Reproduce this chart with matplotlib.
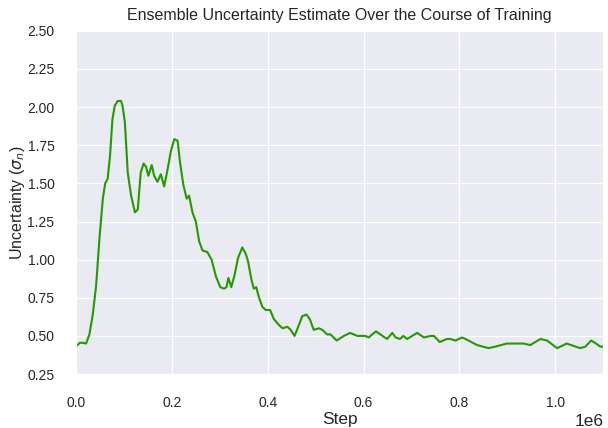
import numpy as np
import matplotlib
matplotlib.use("Agg")
import matplotlib.pyplot as plt
import seaborn as sns

sns.set_style("darkgrid")
plt.rcParams["font.family"] = ["Liberation Sans", "DejaVu Sans"]

# step (in millions) and uncertainty
step = [0.003, 0.008, 0.014, 0.021, 0.028, 0.035, 0.042, 0.049, 0.056, 0.061, 0.066,
        0.071, 0.076, 0.081, 0.087, 0.094, 0.097, 0.102, 0.108, 0.115, 0.123, 0.129,
        0.135, 0.141, 0.146, 0.151, 0.158, 0.163, 0.170, 0.177, 0.184, 0.191, 0.198,
        0.205, 0.212, 0.217, 0.224, 0.231, 0.236, 0.243, 0.250, 0.257, 0.264, 0.274,
        0.283, 0.292, 0.301, 0.309, 0.314, 0.318, 0.324, 0.331, 0.338, 0.347, 0.354,
        0.359, 0.366, 0.371, 0.376, 0.382, 0.389, 0.396, 0.405, 0.413, 0.424, 0.431,
        0.441, 0.448, 0.456, 0.465, 0.472, 0.481, 0.488, 0.496, 0.507, 0.514, 0.524,
        0.531, 0.544, 0.559, 0.572, 0.587, 0.604, 0.611, 0.618, 0.626, 0.635, 0.649,
        0.660, 0.667, 0.676, 0.683, 0.691, 0.712, 0.726, 0.740, 0.747, 0.759, 0.774,
        0.781, 0.792, 0.806, 0.819, 0.837, 0.861, 0.875, 0.899, 0.934, 0.948, 0.969,
        0.983, 1.004, 1.024, 1.052, 1.063, 1.075, 1.083, 1.094, 1.100]
sigma = [0.44, 0.455, 0.455, 0.45, 0.51, 0.64, 0.83, 1.14, 1.40, 1.50, 1.53,
         1.68, 1.92, 2.01, 2.04, 2.04, 2.01, 1.90, 1.57, 1.42, 1.31, 1.33,
         1.57, 1.63, 1.61, 1.55, 1.62, 1.55, 1.51, 1.56, 1.48, 1.59, 1.71,
         1.79, 1.78, 1.64, 1.49, 1.40, 1.42, 1.31, 1.25, 1.12, 1.06, 1.05,
         1.00, 0.89, 0.82, 0.81, 0.82, 0.88, 0.82, 0.90, 1.01, 1.08, 1.04,
         0.99, 0.87, 0.81, 0.82, 0.75, 0.69, 0.67, 0.67, 0.61, 0.57, 0.55,
         0.56, 0.54, 0.50, 0.57, 0.63, 0.64, 0.61, 0.54, 0.55, 0.54, 0.51,
         0.51, 0.47, 0.50, 0.52, 0.50, 0.50, 0.49, 0.51, 0.53, 0.51, 0.48,
         0.52, 0.49, 0.48, 0.50, 0.48, 0.52, 0.49, 0.50, 0.50, 0.46, 0.48,
         0.48, 0.47, 0.49, 0.47, 0.44, 0.42, 0.43, 0.45, 0.45, 0.44, 0.48,
         0.47, 0.42, 0.45, 0.42, 0.43, 0.47, 0.455, 0.43, 0.43]

x = np.array(step) * 1e6

fig = plt.figure(figsize=(6.08, 4.28), dpi=100)
ax = fig.add_axes([0.125, 0.126, 0.867, 0.802])
ax.plot(x, sigma, color="#229a00", linewidth=1.5)

ax.set_xlim(0, 1.1e6)
ax.set_ylim(0.25, 2.5)
ax.set_yticks(np.arange(0.25, 2.51, 0.25))
ax.tick_params(labelsize=10, colors="#262626", pad=12)
ax.set_title("Ensemble Uncertainty Estimate Over the Course of Training",
             fontsize=11.5, color="#262626", pad=8)
ax.set_xlabel("Step", fontsize=12.5, color="#262626", labelpad=2)
ax.set_ylabel(r"Uncertainty ($\sigma_n$)", fontsize=11.5, color="#262626")
ax.yaxis.set_label_coords(-0.093, 0.5)
ax.xaxis.get_offset_text().set_fontsize(12.5)

fig.savefig("out.png", dpi=100)
